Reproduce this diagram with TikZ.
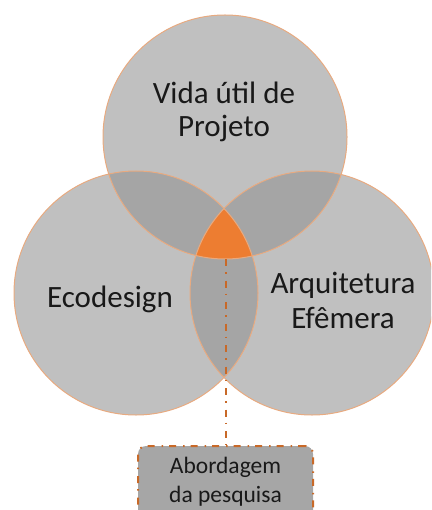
\documentclass[tikz,border=0pt]{standalone}
\usepackage{fontspec}
\setmainfont{Carlito}
\definecolor{circfill}{RGB}{145,145,145}
\definecolor{circline}{RGB}{232,170,128}
\definecolor{orng}{RGB}{237,125,49}
\definecolor{dashc}{RGB}{200,105,40}
\definecolor{boxfill}{RGB}{166,166,166}
\definecolor{txt}{RGB}{25,25,25}
\tikzset{
  circfillst/.style={fill=circfill, fill opacity=0.57},
  circlinest/.style={draw=circline, line width=1pt},
  bigtext/.style={font=\fontsize{31}{34}\selectfont, text=txt, inner sep=0pt, anchor=base},
  smalltext/.style={font=\fontsize{23.5}{29}\selectfont, text=txt, inner sep=0pt, anchor=base},
  dashdotline/.style={draw=dashc, line width=2pt, dash pattern=on 7pt off 6pt on 1.5pt off 7pt},
  boxst/.style={fill=boxfill, dashdotline, rounded corners=8pt, minimum width=175pt, minimum height=80pt, inner sep=0pt, anchor=north}
}
\begin{document}
\begin{tikzpicture}[x=1pt,y=-1pt]
\useasboundingbox (0,0) rectangle (431,510);
\clip (0,0) rectangle (431,510);
% circles fills
\fill[circfillst] (225,137) circle[radius=122];
\fill[circfillst] (136,293) circle[radius=122];
\fill[circfillst] (312,293) circle[radius=122];
% central intersection
\begin{scope}
  \clip (225,137) circle[radius=122];
  \clip (136,293) circle[radius=122];
  \fill[orng] (312,293) circle[radius=122];
\end{scope}
% outlines
\draw[circlinest] (225,137) circle[radius=122];
\draw[circlinest] (136,293) circle[radius=122];
\draw[circlinest] (312,293) circle[radius=122];
% labels
\node[bigtext] (t1) at (224,104) {Vida útil de};
\node[bigtext] (t2) at (224,137) {Projeto};
\node[bigtext] (e1) at (110,307) {Ecodesign};
\node[bigtext] (a1) at (343,293) {Arquitetura};
\node[bigtext] (a2) at (343,328) {Efêmera};
% connector and box
\coordinate (o) at (225.5,259);
\node[boxst] (box) at (225.5,445) {};
\draw[dashdotline] (o) -- (box.north);
\node[smalltext] (b1) at (225.5,473) {Abordagem};
\node[smalltext] (b2) at (225.5,502) {da pesquisa};
\end{tikzpicture}
\end{document}
